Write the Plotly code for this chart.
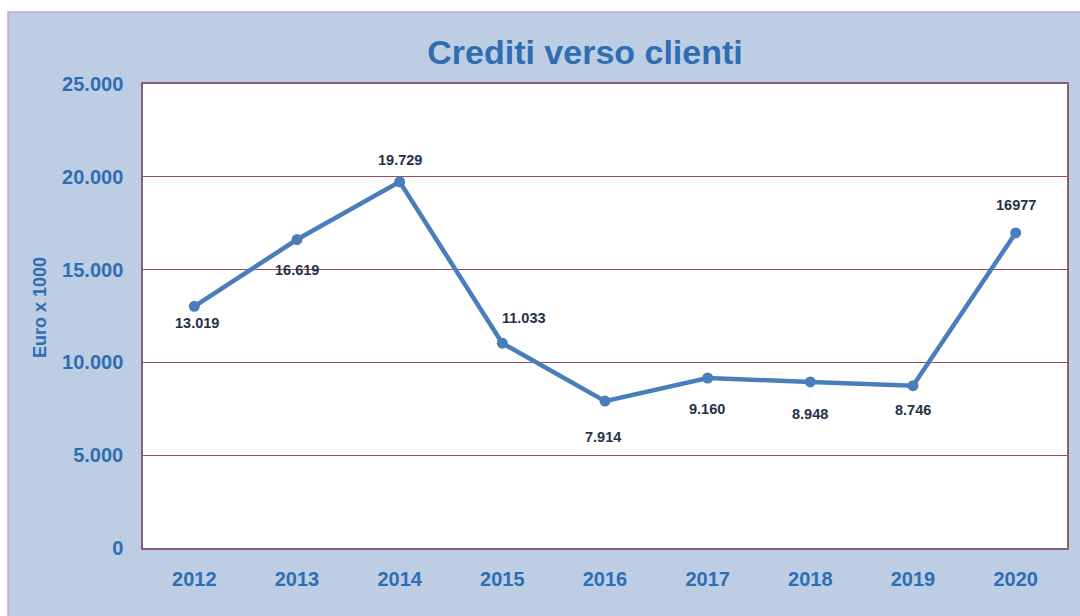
import plotly.graph_objects as go

years = ["2012", "2013", "2014", "2015", "2016", "2017", "2018", "2019", "2020"]
values = [13019, 16619, 19729, 11033, 7914, 9160, 8948, 8746, 16977]
labels = ["13.019", "16.619", "19.729", "11.033", "7.914", "9.160", "8.948", "8.746", "16977"]
label_dy = [-17, -30, 22, 25, -36, -31, -32, -24, 28]
label_dx = [3, 0, 0, 22, -2, -1, 0, 0, 0]
y_ticks = [0, 5000, 10000, 15000, 20000, 25000]

W, H = 1080, 616
ML, MR, MT, MB = 143, 13, 84, 68
PW, PH = W - ML - MR, H - MT - MB

def px_x(p):
    return (p - ML) / PW

def px_y(p):
    return (H - MB - p) / PH

BLUE_BG = "#bdcde3"
TXT_BLUE = "#2f6db3"
GRID = "#9a4a5c"
FONT = "Liberation Sans, Arial"

fig = go.Figure()
fig.add_trace(go.Scatter(
    x=years, y=values, mode="lines+markers",
    line=dict(color="#4a7ebb", width=4.5),
    marker=dict(color="#4a7ebb", size=11),
    hoverinfo="x+y", showlegend=False,
))

for i, (v, t, dy, dx) in enumerate(zip(values, labels, label_dy, label_dx)):
    fig.add_annotation(x=i, y=v, xref="x", yref="y", text="<b>" + t + "</b>", showarrow=False,
                       yshift=dy, xshift=dx,
                       font=dict(family=FONT, size=14.5, color="#243247"))

fig.add_annotation(xref="paper", yref="paper", x=px_x(40), y=px_y(308), text="<b>Euro x 1000</b>",
                   textangle=-90, showarrow=False, xanchor="center", yanchor="middle",
                   font=dict(family=FONT, size=18, color=TXT_BLUE))

fig.add_shape(type="rect", xref="paper", yref="paper", layer="below",
              x0=px_x(8), x1=px_x(1082), y0=px_y(12), y1=px_y(618),
              fillcolor=BLUE_BG, line=dict(color="#c9a6cf", width=1.5))
fig.add_shape(type="rect", xref="paper", yref="paper", layer="below",
              x0=0, x1=1, y0=0, y1=1, fillcolor="white", line=dict(width=0))

fig.update_layout(
    width=W, height=H,
    margin=dict(l=ML, r=MR, t=MT, b=MB),
    paper_bgcolor="white", plot_bgcolor="white",
    separators=",.",
    title=dict(text="<b>Crediti verso clienti</b>", xref="paper", x=px_x(585), xanchor="center",
               yref="container", y=1 - 52 / H, yanchor="middle",
               font=dict(family=FONT, size=34, color=TXT_BLUE)),
    xaxis=dict(type="category", range=[-0.5, 8.5], showgrid=False,
               showline=True, mirror=True, linecolor="#8a5f74", linewidth=1.5,
               ticks="outside", ticklen=12, tickcolor="rgba(0,0,0,0)",
               tickfont=dict(family=FONT, size=20, color=TXT_BLUE, weight="bold")),
    yaxis=dict(range=[0, 25000], tickvals=y_ticks, tickformat=",d", showgrid=True,
               gridcolor=GRID, gridwidth=1, zeroline=False,
               showline=True, mirror=True, linecolor="#8a5f74", linewidth=1.5,
               ticks="outside", ticklen=14, tickcolor="rgba(0,0,0,0)",
               tickfont=dict(family=FONT, size=20, color=TXT_BLUE, weight="bold")),
)

fig.write_html("out.html", config={"displayModeBar": False},
               post_script="document.body.style.margin='0';")
